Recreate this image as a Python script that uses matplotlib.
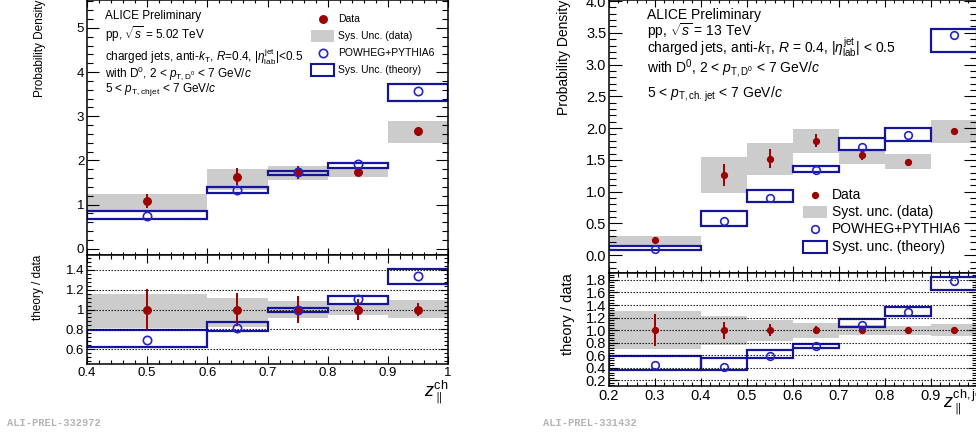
import numpy as np
import matplotlib.pyplot as plt
from matplotlib.patches import Rectangle
from matplotlib.ticker import MultipleLocator, FormatStrFormatter, FuncFormatter

plt.rcParams['font.family'] = 'Liberation Sans'
plt.rcParams['mathtext.fontset'] = 'custom'
plt.rcParams['mathtext.rm'] = 'Liberation Sans'
plt.rcParams['mathtext.it'] = 'Liberation Sans:italic'
plt.rcParams['mathtext.bf'] = 'Liberation Sans:bold'

RED = '#9c0000'
GREY = '#cccccc'
NAVY = '#15159a'
BLUE = '#2424c8'

# ---- 5.02 TeV (left) ----
edges_l = [0.4, 0.6, 0.7, 0.8, 0.9, 1.0]
data_l = [1.08, 1.63, 1.73, 1.74, 2.66]
stat_l = [0.16, 0.19, 0.15, 0.10, 0.10]
sys_lo_l = [0.88, 1.33, 1.56, 1.62, 2.40]
sys_hi_l = [1.24, 1.81, 1.88, 1.86, 2.90]
th_l = [0.75, 1.33, 1.73, 1.92, 3.57]
th_lo_l = [0.68, 1.27, 1.67, 1.83, 3.35]
th_hi_l = [0.86, 1.40, 1.76, 1.95, 3.73]
# ratio theory / data
rth_l = [0.69, 0.81, 0.99, 1.11, 1.34]
rth_lo_l = [0.62, 0.78, 0.97, 1.06, 1.26]
rth_hi_l = [0.79, 0.87, 1.02, 1.14, 1.41]
rsys_lo_l = [0.81, 0.82, 0.91, 0.94, 0.91]
rsys_hi_l = [1.16, 1.12, 1.09, 1.07, 1.10]
rstat_l = [0.21, 0.17, 0.14, 0.11, 0.07]

# ---- 13 TeV (right) ----
edges_r = [0.2, 0.4, 0.5, 0.6, 0.7, 0.8, 0.9, 1.0]
data_r = [0.236, 1.26, 1.52, 1.80, 1.58, 1.46, 1.95]
stat_r = [0.05, 0.17, 0.15, 0.10, 0.08, 0.06, 0.04]
sys_lo_r = [0.165, 0.98, 1.27, 1.61, 1.44, 1.35, 1.76]
sys_hi_r = [0.30, 1.55, 1.77, 1.98, 1.67, 1.60, 2.13]
th_r = [0.10, 0.535, 0.90, 1.34, 1.70, 1.89, 3.47]
th_lo_r = [0.08, 0.46, 0.84, 1.31, 1.66, 1.80, 3.19]
th_hi_r = [0.14, 0.69, 1.03, 1.40, 1.84, 2.00, 3.56]
rth_r = [0.44, 0.42, 0.59, 0.74, 1.08, 1.29, 1.78]
rth_lo_r = [0.365, 0.365, 0.55, 0.72, 1.05, 1.22, 1.645]
rth_hi_r = [0.58, 0.55, 0.685, 0.78, 1.18, 1.37, 1.84]
rsys_lo_r = [0.70, 0.77, 0.82, 0.88, 0.92, 0.92, 0.90]
rsys_hi_r = [1.30, 1.23, 1.16, 1.12, 1.08, 1.07, 1.10]
rstat_r = [0.25, 0.135, 0.10, 0.06, 0.04, 0.02, 0.02]

W, H = 976, 434
fig = plt.figure(figsize=(W / 100, H / 100), dpi=100)


def box(x0, y0, x1, y1):
    # pixel box (top-left origin) -> figure fraction rect
    return [x0 / W, 1 - y1 / H, (x1 - x0) / W, (y1 - y0) / H]


def P(x, y):
    return x / W, 1 - y / H


ax_lt = fig.add_axes(box(87, 0, 448, 255))
ax_lr = fig.add_axes(box(87, 255, 448, 364))
ax_rt = fig.add_axes(box(609, 0, 977, 273))
ax_rr = fig.add_axes(box(609, 273, 977, 386))


def draw(ax, edges, val, err, slo, shi, th, tlo, thi, ms_d, ms_t):
    e = np.array(edges)
    c = (e[:-1] + e[1:]) / 2
    w = np.diff(e)
    slo, shi, tlo, thi = map(np.array, (slo, shi, tlo, thi))
    ax.bar(e[:-1], shi - slo, bottom=slo, width=w, align='edge', color=GREY, lw=0, zorder=1)
    ax.bar(e[:-1], thi - tlo, bottom=tlo, width=w, align='edge', fill=False,
           edgecolor=NAVY, lw=1.6, zorder=2)
    ax.errorbar(c, val, yerr=err, fmt='o', color=RED, ms=ms_d, elinewidth=1.4, capsize=0, zorder=4)
    ax.plot(c, th, 'o', mfc='none', mec=BLUE, mew=1.2, ms=ms_t, zorder=5)


draw(ax_lt, edges_l, data_l, stat_l, sys_lo_l, sys_hi_l, th_l, th_lo_l, th_hi_l, 5.4, 6)
draw(ax_lr, edges_l, np.ones(5), rstat_l, rsys_lo_l, rsys_hi_l, rth_l, rth_lo_l, rth_hi_l, 5.4, 6)
draw(ax_rt, edges_r, data_r, stat_r, sys_lo_r, sys_hi_r, th_r, th_lo_r, th_hi_r, 4.2, 5.5)
draw(ax_rr, edges_r, np.ones(7), rstat_r, rsys_lo_r, rsys_hi_r, rth_r, rth_lo_r, rth_hi_r, 4.2, 5.5)

for ax, gl in ((ax_lr, [0.6, 0.8, 1.0, 1.2, 1.4]), (ax_rr, np.arange(0.2, 1.81, 0.2))):
    for g in gl:
        ax.axhline(g, color='black', ls=(0, (1.2, 1.5)), lw=0.8, zorder=3)


def style(ax, xmaj, xmin, ymaj, ymin, ylen, xlen, size, fmt_x, fmt_y, labx):
    ax.xaxis.set_major_locator(MultipleLocator(xmaj))
    ax.xaxis.set_minor_locator(MultipleLocator(xmin))
    ax.yaxis.set_major_locator(MultipleLocator(ymaj))
    ax.yaxis.set_minor_locator(MultipleLocator(ymin))
    ax.xaxis.set_major_formatter(fmt_x)
    ax.yaxis.set_major_formatter(FormatStrFormatter(fmt_y))
    ax.tick_params(which='both', direction='in', top=True, right=True, width=0.8,
                   labelsize=size, pad=2, labelbottom=labx)
    ax.tick_params(axis='y', which='major', length=ylen)
    ax.tick_params(axis='y', which='minor', length=ylen / 2)
    ax.tick_params(axis='x', which='major', length=xlen)
    ax.tick_params(axis='x', which='minor', length=xlen / 2)
    for s in ax.spines.values():
        s.set_linewidth(1.1)


# right-hand x axis: the "1.0" label falls outside the picture in the original
fmt_r = FuncFormatter(lambda v, p: '' if v > 0.99 else '%.1f' % v)
style(ax_lt, 0.1, 0.02, 1, 0.2, 8.6, 5, 9.5, FormatStrFormatter('%g'), '%g', False)
style(ax_lr, 0.1, 0.02, 0.2, 0.04, 5.8, 5.5, 9.5, FormatStrFormatter('%g'), '%g', True)
style(ax_rt, 0.1, 0.02, 0.5, 0.1, 9.4, 5, 10.5, fmt_r, '%.1f', False)
style(ax_rr, 0.1, 0.02, 0.2, 0.04, 6.5, 6, 10.5, fmt_r, '%.1f', True)

ax_lt.set_xlim(0.4, 1.0)
ax_lr.set_xlim(0.4, 1.0)
ax_rt.set_xlim(0.2, 1.0)
ax_rr.set_xlim(0.2, 1.0)
ax_lt.set_ylim(-0.14, 5.63)
ax_lr.set_ylim(0.45, 1.55)
ax_rt.set_ylim(-0.28, 4.016)
ax_rr.set_ylim(0.11, 1.91)

# axis titles
fig.text(*P(40, 0), 'Probability Density', rotation=90, ha='center', va='top', size=8.5)
fig.text(*P(38, 255), 'theory / data', rotation=90, ha='center', va='top', size=8.5)
fig.text(*P(564, 0), 'Probability Density', rotation=90, ha='center', va='top', size=10)
fig.text(*P(568, 273), 'theory / data', rotation=90, ha='center', va='top', size=10.5)
fig.text(*P(448, 378), r'$z_{\parallel}^{\rm ch}$', ha='right', va='top', size=13)
fig.text(*P(943, 388), r'$z_{\parallel}^{\rm ch,jet}$', ha='left', va='top', size=13)

# info text
info_l = ['ALICE Preliminary',
          r'pp, $\sqrt{s}$ = 5.02 TeV',
          r'charged jets, anti-$k_{\rm T}$, $R$=0.4, $|\eta^{\rm jet}_{\rm lab}|$<0.5',
          r'with D$^{0}$, 2 < $p_{\rm T,D^{0}}$ < 7 GeV/$c$',
          r'5 < $p_{\rm T,ch\,jet}$ < 7 GeV/$c$']
for t, y in zip(info_l, [16, 34, 57, 73, 90]):
    fig.text(*P(105, y), t, va='center', ha='left', size=8.5)
info_r = ['ALICE Preliminary',
          r'pp, $\sqrt{s}$ = 13 TeV',
          r'charged jets, anti-$k_{\rm T}$, $R$ = 0.4, $|\eta^{\rm jet}_{\rm lab}|$ < 0.5',
          r'with D$^{0}$, 2 < $p_{\rm T,D^{0}}$ < 7 GeV/$c$',
          r'5 < $p_{\rm T,ch.\,jet}$ < 7 GeV/$c$']
for t, y in zip(info_r, [15, 31, 47, 69, 94]):
    fig.text(*P(647, y), t, va='center', ha='left', size=10)


# legends
def legend(ax, mx, rx0, rx1, tx, ys, hs, labels, size, ms_d, ms_t):
    ax.plot(*P(mx, ys[0]), 'o', color=RED, ms=ms_d, transform=fig.transFigure, clip_on=False)
    x0, y0 = P(rx0, ys[1] + hs / 2)
    fig.add_artist(Rectangle((x0, y0), (rx1 - rx0) / W, hs / H, transform=fig.transFigure,
                             facecolor=GREY, edgecolor='none'))
    ax.plot(*P(mx, ys[2]), 'o', mfc='none', mec=BLUE, mew=1.2, ms=ms_t,
            transform=fig.transFigure, clip_on=False)
    x0, y0 = P(rx0, ys[3] + hs / 2)
    fig.add_artist(Rectangle((x0, y0), (rx1 - rx0) / W, hs / H, transform=fig.transFigure,
                             facecolor='none', edgecolor=NAVY, lw=1.5))
    for t, y in zip(labels, ys):
        fig.text(*P(tx, y), t, va='center', ha='left', size=size)


legend(ax_lt, 323, 311, 334, 338, [19, 36, 53, 70], 12,
       ['Data', 'Sys. Unc. (data)', 'POWHEG+PYTHIA6', 'Sys. Unc. (theory)'], 7.5, 5.4, 6)
legend(ax_rt, 815, 803, 827, 832, [195, 212, 229, 247], 12,
       ['Data', 'Syst. unc. (data)', 'POWHEG+PYTHIA6', 'Syst. unc. (theory)'], 10, 4.2, 5.5)

ax_lt.set_xlim(0.4, 1.0)
ax_rt.set_xlim(0.2, 1.0)
ax_lt.set_ylim(-0.14, 5.63)
ax_rt.set_ylim(-0.28, 4.016)

fig.text(*P(7, 423), 'ALI-PREL-332972', family='Liberation Mono', weight='bold', size=7.5,
         color='#b4b4b4', va='center')
fig.text(*P(543, 423), 'ALI-PREL-331432', family='Liberation Mono', weight='bold', size=7.5,
         color='#b4b4b4', va='center')

fig.savefig('out.png', dpi=100)
